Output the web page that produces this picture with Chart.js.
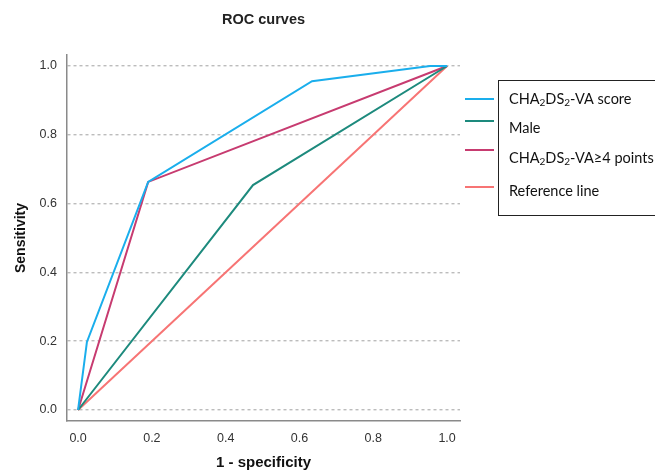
<!DOCTYPE html>
<html>
<head>
<meta charset="utf-8">
<script src="https://cdn.jsdelivr.net/npm/chart.js@4.4.1/dist/chart.umd.min.js"></script>
<style>
  html, body { margin: 0; padding: 0; background: #fff; }
  #wrap { width: 655px; height: 474px; position: relative; }
</style>
</head>
<body>
<div id="wrap"><canvas id="rocChart"></canvas></div>
<script>
// ROC data
const seriesLabels = ['CHA₂DS₂-VA score', 'Male', 'CHA₂DS₂-VA≥4 points', 'Reference line'];
const scoreX = [0, 0.024, 0.19, 0.634, 0.954, 1];
const scoreY = [0, 0.198, 0.663, 0.956, 1, 1];
const maleX = [0, 0.474, 1];
const maleY = [0, 0.654, 1];
const fourPointsX = [0, 0.19, 1];
const fourPointsY = [0, 0.663, 1];
const refX = [0, 1];
const refY = [0, 1];
const tickValues = [0, 0.2, 0.4, 0.6, 0.8, 1.0];

const colors = ['#1aaeec', '#1d8a7d', '#c73b70', '#f77474'];
const legendLineY = [99, 121, 150, 187];
const legendTextY = [99, 128, 158, 191];

const toPoints = (xs, ys) => xs.map((x, i) => ({ x: x, y: ys[i] }));

// draws "₂" as a small lowered 2
function drawSubText(ctx, text, x, y, size) {
  const parts = text.split('₂');
  parts.forEach((p, i) => {
    ctx.font = size + 'px Lato, "Open Sans", sans-serif';
    ctx.fillText(p, x, y);
    x += ctx.measureText(p).width;
    if (i < parts.length - 1) {
      ctx.font = Math.round(size * 0.7) + 'px Lato, "Open Sans", sans-serif';
      ctx.fillText('2', x, y + 4);
      x += ctx.measureText('2').width;
    }
  });
}

const extras = {
  id: 'extras',
  afterDraw(chart) {
    const ctx = chart.ctx;
    const area = chart.chartArea;
    ctx.save();
    // title
    ctx.fillStyle = '#222';
    ctx.font = 'bold 14.5px "Liberation Sans", Arial, sans-serif';
    ctx.textAlign = 'center';
    ctx.textBaseline = 'middle';
    ctx.fillText('ROC curves', (area.left + area.right) / 2, 20);

    // legend
    ctx.strokeStyle = '#222';
    ctx.lineWidth = 1;
    ctx.strokeRect(498.5, 80.5, 170, 135);
    ctx.textAlign = 'left';
    seriesLabels.forEach((lbl, i) => {
      ctx.strokeStyle = colors[i];
      ctx.lineWidth = 2;
      ctx.beginPath();
      ctx.moveTo(465, legendLineY[i]);
      ctx.lineTo(494, legendLineY[i]);
      ctx.stroke();
      ctx.fillStyle = '#111';
      drawSubText(ctx, lbl, 509, legendTextY[i], 14.5);
    });
    ctx.restore();
  }
};

const datasets = [
  toPoints(scoreX, scoreY),
  toPoints(maleX, maleY),
  toPoints(fourPointsX, fourPointsY),
  toPoints(refX, refY)
].map((pts, i) => ({
  label: seriesLabels[i],
  data: pts,
  borderColor: colors[i],
  borderWidth: 2,
  pointRadius: 0,
  fill: false,
  tension: 0,
  order: i
}));

const tickFont = { family: '"Liberation Sans", Arial, sans-serif', size: 12.5 };
const xTitleFont = { family: '"Liberation Sans", Arial, sans-serif', size: 15, weight: 'bold' };
const yTitleFont = { family: '"Liberation Sans Narrow", "Liberation Sans", Arial, sans-serif', size: 14, weight: 'bold' };

new Chart(document.getElementById('rocChart'), {
  type: 'line',
  data: { datasets: datasets },
  options: {
    responsive: true,
    maintainAspectRatio: false,
    animation: false,
    layout: { padding: { top: 55, right: 195, left: 0, bottom: 0 } },
    plugins: {
      legend: { display: false },
      title: { display: false },
      tooltip: { enabled: false }
    },
    scales: {
      x: {
        type: 'linear',
        min: -0.03,
        max: 1.035,
        afterFit: s => { s.height = 53; },
        afterBuildTicks: s => { s.ticks = tickValues.map(v => ({ value: v })); },
        grid: { display: false, drawTicks: false },
        border: { display: true, color: '#8a8a8a', width: 1.5 },
        ticks: { font: tickFont, color: '#333', padding: 10, maxRotation: 0, callback: v => v.toFixed(1) },
        title: { display: true, text: '1 - specificity', font: xTitleFont, color: '#111', padding: { top: 0, bottom: 2 } }
      },
      y: {
        type: 'linear',
        min: -0.032,
        max: 1.032,
        afterFit: s => { s.width = 67; },
        afterBuildTicks: s => { s.ticks = tickValues.map(v => ({ value: v })); },
        grid: { display: true, drawTicks: false, color: '#bcbcbc', lineWidth: 1.4 },
        border: { display: true, color: '#8a8a8a', width: 1.5, dash: [3, 3] },
        ticks: { font: tickFont, color: '#333', padding: 10, callback: v => v.toFixed(1) },
        title: { display: true, text: 'Sensitivity', font: yTitleFont, color: '#111', padding: { top: 13, bottom: 0 } }
      }
    }
  },
  plugins: [extras]
});
</script>
</body>
</html>
